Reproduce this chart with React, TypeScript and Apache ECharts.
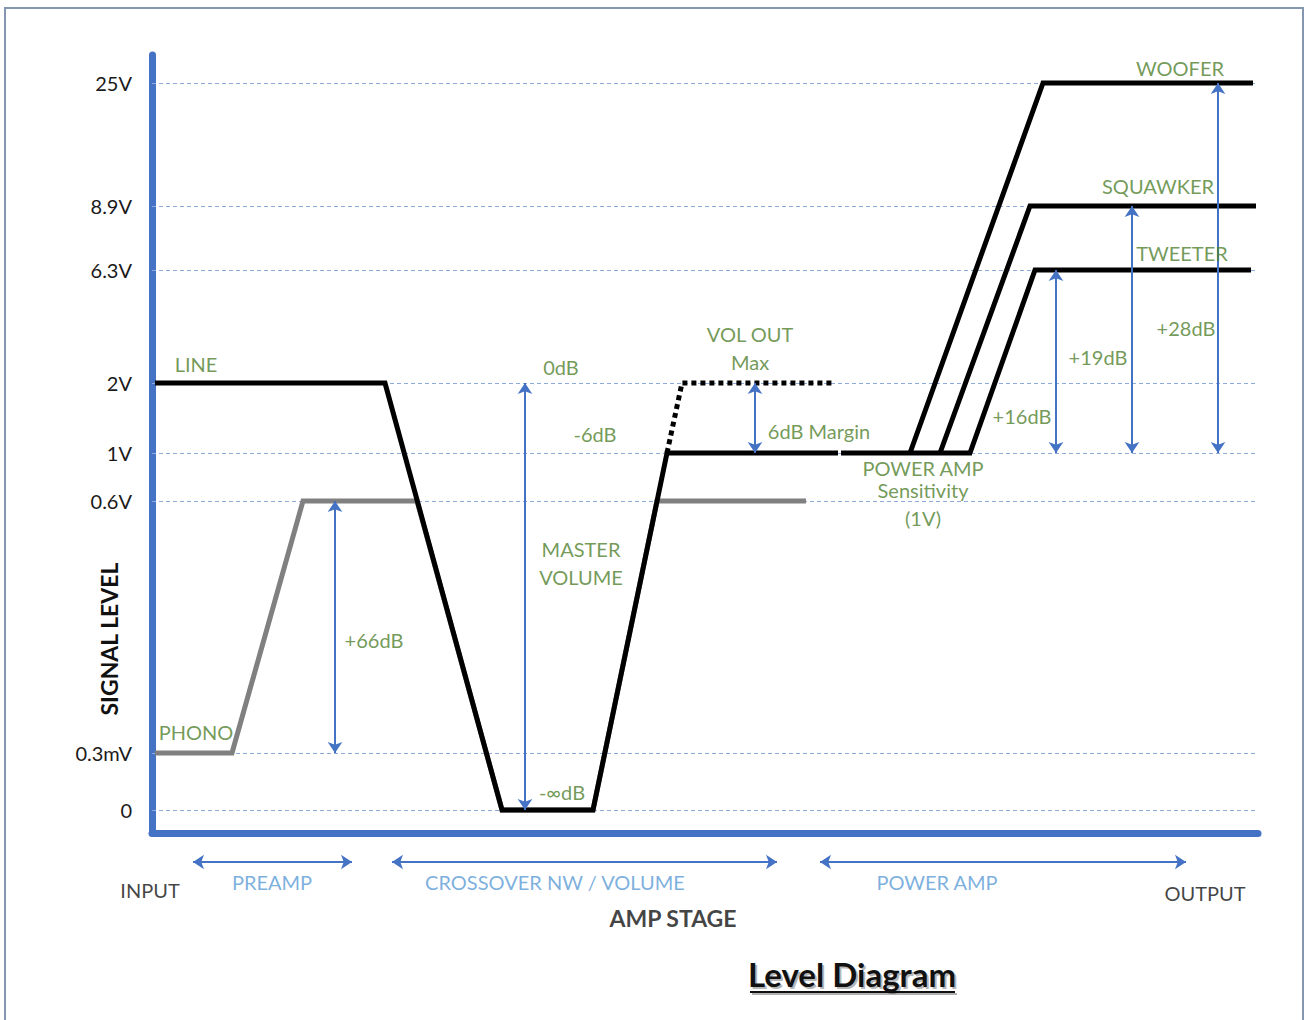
import React, { useEffect, useRef } from "react";
import * as echarts from "echarts";

// Level positions (schematic vertical positions of each signal level)
const levelNames = ["0", "0.3mV", "0.6V", "1V", "2V", "6.3V", "8.9V", "25V"];
const levelPos = [23, 80, 332, 380, 450, 563, 627, 750];
const L = (n: string) => levelPos[levelNames.indexOf(n)];

// Stage positions (x) and levels for each trace
const lineX = [3, 233, 350, 441, 515, 686];
const lineLv = ["2V", "2V", "0", "0", "1V", "1V"];
const line2X = [689, 820];
const line2Lv = ["1V", "1V"];
const phonoX = [3, 80, 151, 265, 350, 441, 505, 654];
const phonoLv = ["0.3mV", "0.3mV", "0.6V", "0.6V", "0", "0", "0.6V", "0.6V"];
const volMaxX = [515, 530, 680];
const volMaxLv = ["1V", "2V", "2V"];
const wooferX = [758, 891, 1101];
const wooferLv = ["1V", "25V", "25V"];
const squawkerX = [788, 878, 1104];
const squawkerLv = ["1V", "8.9V", "8.9V"];
const tweeterX = [818, 883, 1099];
const tweeterLv = ["1V", "6.3V", "6.3V"];

// Gain arrows: x, from level, to level
const gainArrowX = [183, 373, 603, 904, 980, 1066];
const gainArrowFrom = ["0.6V", "2V", "2V", "6.3V", "8.9V", "25V"];
const gainArrowTo = ["0.3mV", "0", "1V", "1V", "1V", "1V"];

// Annotations in the plot
const noteText = ["LINE", "PHONO", "+66dB", "0dB", "-6dB", "MASTER\nVOLUME", "-∞dB", "VOL OUT\nMax", "6dB Margin", "POWER AMP\nSensitivity", "(1V)", "+16dB", "+19dB", "+28dB", "WOOFER", "SQUAWKER", "TWEETER"];
const noteX = [44, 44, 222, 409, 443, 429, 410, 598, 667, 771, 771, 870, 946, 1034, 1028, 1006, 1030];
const noteY = [469, 101, 193, 466, 399, 270, 41, 485, 402, 354, 315, 417, 476, 505, 765, 647, 580];
const noteLineHeight = [28, 28, 28, 28, 28, 28, 28, 28, 28, 22, 28, 28, 28, 28, 28, 28, 28];

// Stage spans below the axis
const stageNames = ["PREAMP", "CROSSOVER NW / VOLUME", "POWER AMP"];
const stageStart = [41, 240, 668];
const stageEnd = [200, 625, 1034];
const stageLabelX = [120, 403, 785];

const FONT = "Lato, Carlito, 'Open Sans', sans-serif";
const GREEN = "#4f7f2e";
const BLUE = "#4472c4";
const LBLUE = "#5b9bd5";

const pts = (xs: number[], lv: string[]) => xs.map((x, i) => [x, L(lv[i])]);

export default function App() {
  const ref = useRef<HTMLDivElement>(null);
  useEffect(() => {
    document.body.style.margin = "0";
    const chart = echarts.init(ref.current!, null, { renderer: "svg" });
    const blackLine = (name: string, data: number[][], extra: any = {}) => ({
      type: "line",
      name,
      data,
      showSymbol: false,
      symbol: "none",
      z: 3,
      lineStyle: { color: "#000", width: 5, cap: "butt", join: "miter", ...extra },
      silent: true,
    });
    const option: any = {
      animation: false,
      grid: [
        { left: 152, right: 48, top: 55, height: 778 },
        { left: 0, right: 0, top: 845, height: 95 },
      ],
      xAxis: [
        {
          type: "value", gridIndex: 0, min: 0, max: 1106,
          axisLine: { show: true, onZero: false, lineStyle: { color: BLUE, width: 7 } },
          axisTick: { show: false }, axisLabel: { show: false }, splitLine: { show: false },
        },
        {
          type: "value", gridIndex: 1, min: -152, max: 1154, show: false,
        },
      ],
      yAxis: [
        {
          type: "value", gridIndex: 0, min: 0, max: 778,
          axisLine: { show: true, onZero: false, lineStyle: { color: BLUE, width: 7 } },
          axisTick: { show: false }, axisLabel: { show: false }, splitLine: { show: false },
        },
        { type: "value", gridIndex: 1, min: 0, max: 95, show: false },
      ],
      series: [
        {
          type: "line",
          name: "PHONO",
          data: pts(phonoX, phonoLv),
          showSymbol: false,
          symbol: "none",
          z: 2,
          silent: true,
          lineStyle: { color: "#808080", width: 5, join: "miter" },
          markLine: {
            silent: true,
            symbol: ["none", "none"],
            z: 1,
            label: {
              show: true, position: "start", formatter: "{b}", distance: 20,
              color: "#1a1a1a", fontSize: 20, fontFamily: FONT,
            },
            lineStyle: { type: [4, 3], color: "#8eaadb", width: 1 },
            data: levelNames.map((n) => ({ yAxis: L(n), name: n })),
          },
        },
        blackLine("LINE", pts(lineX, lineLv)),
        blackLine("LINE2", pts(line2X, line2Lv)),
        blackLine("VOL OUT Max", pts(volMaxX, volMaxLv), { type: [5, 4] }),
        blackLine("WOOFER", pts(wooferX, wooferLv)),
        blackLine("SQUAWKER", pts(squawkerX, squawkerLv)),
        blackLine("TWEETER", pts(tweeterX, tweeterLv)),
        {
          type: "line",
          name: "arrows",
          data: [],
          z: 4,
          silent: true,
          markLine: {
            silent: true,
            symbol: ["arrow", "arrow"],
            symbolSize: 11,
            label: { show: false },
            lineStyle: { type: "solid", color: BLUE, width: 2 },
            data: gainArrowX.map((x, i) => [
              { coord: [x, L(gainArrowFrom[i])] },
              { coord: [x, L(gainArrowTo[i])] },
            ]),
          },
        },
        {
          type: "scatter",
          name: "notes",
          symbolSize: 1,
          itemStyle: { color: "rgba(0,0,0,0)" },
          z: 5,
          silent: true,
          data: noteText.map((t, i) => ({
            name: t,
            value: [noteX[i], noteY[i]],
            label: { lineHeight: noteLineHeight[i] },
          })),
          label: {
            show: true, position: "inside", formatter: "{b}", color: GREEN,
            fontSize: 20, fontFamily: FONT, lineHeight: 28, align: "center",
          },
        },
        {
          type: "line",
          name: "stages",
          xAxisIndex: 1,
          yAxisIndex: 1,
          data: [],
          silent: true,
          markLine: {
            silent: true,
            symbol: ["arrow", "arrow"],
            symbolSize: 11,
            label: { show: false },
            lineStyle: { type: "solid", color: BLUE, width: 2 },
            data: stageNames.map((n, i) => [
              { coord: [stageStart[i], 78] },
              { coord: [stageEnd[i], 78] },
            ]),
          },
        },
        {
          type: "scatter",
          name: "stageLabels",
          xAxisIndex: 1,
          yAxisIndex: 1,
          symbolSize: 1,
          itemStyle: { color: "rgba(0,0,0,0)" },
          silent: true,
          label: { show: true, position: "inside", formatter: "{b}", fontSize: 20, fontFamily: FONT },
          data: [
            ...stageNames.map((n, i) => ({ name: n, value: [stageLabelX[i], 58], label: { color: LBLUE } })),
            { name: "INPUT", value: [-2, 50], label: { color: "#111" } },
            { name: "OUTPUT", value: [1053, 47], label: { color: "#111" } },
            { name: "AMP STAGE", value: [521, 22], label: { color: "#111", fontWeight: "bold", fontSize: 23 } },
          ],
        },
      ],
      graphic: [
        {
          type: "rect", silent: true,
          shape: { x: 5, y: 8, width: 1298, height: 1030 },
          style: { fill: "none", stroke: "#8496b0", lineWidth: 2 },
        },
        {
          type: "text", silent: true, rotation: Math.PI / 2, x: 109, y: 639,
          style: {
            text: "SIGNAL LEVEL", align: "center", verticalAlign: "middle",
            fontSize: 23, fontWeight: "bold", fontFamily: FONT, fill: "#111",
          },
        },
        {
          type: "line", silent: true,
          shape: { x1: 752, y1: 994, x2: 957, y2: 994 },
          style: { stroke: "rgba(0,0,0,0.3)", lineWidth: 2 },
        },
        {
          type: "line", silent: true,
          shape: { x1: 750, y1: 992, x2: 955, y2: 992 },
          style: { stroke: "#111", lineWidth: 2 },
        },
        {
          type: "text", silent: true, x: 854, y: 976,
          style: {
            text: "Level Diagram", align: "center", verticalAlign: "middle",
            fontSize: 33, fontWeight: "bold", fontFamily: FONT, fill: "rgba(0,0,0,0.3)",
          },
        },
        {
          type: "text", silent: true, x: 852, y: 974,
          style: {
            text: "Level Diagram", align: "center", verticalAlign: "middle",
            fontSize: 33, fontWeight: "bold", fontFamily: FONT, fill: "#111",
          },
        },
      ],
    };
    chart.setOption(option);
    return () => chart.dispose();
  }, []);
  return (
    <div
      ref={ref}
      style={{ position: "absolute", left: 0, top: 0, width: 1306, height: 1020, background: "#fff" }}
    />
  );
}
